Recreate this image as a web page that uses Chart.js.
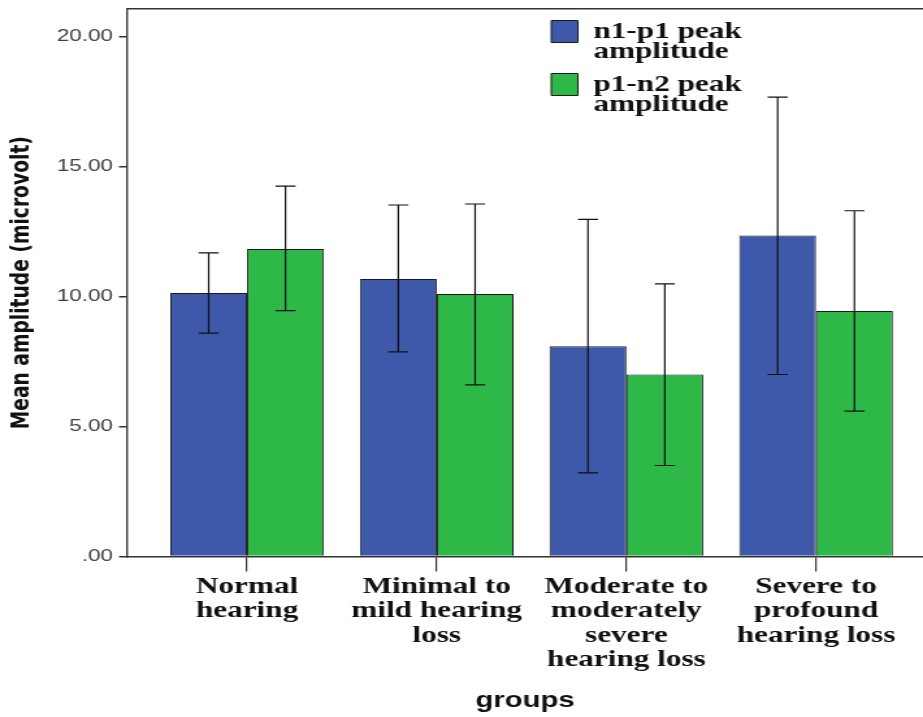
<!DOCTYPE html>
<html>
<head>
<meta charset="utf-8">
<script src="https://cdn.jsdelivr.net/npm/chart.js@4.4.1/dist/chart.umd.min.js"></script>
<style>
html,body{margin:0;padding:0;background:#fff;overflow:hidden;}
#c{display:block;width:923px!important;height:717px!important;}
</style>
</head>
<body>
<canvas id="c" width="710" height="717" style="width:923px;height:717px"></canvas>
<script>
// ---- data ----
const categories = ["Normal hearing", "Minimal to mild hearing loss", "Moderate to moderately severe hearing loss", "Severe to profound hearing loss"];
const categoryLabelLines = [["Normal", "hearing"], ["Minimal to", "mild hearing", "loss"], ["Moderate to", "moderately", "severe", "hearing loss"], ["Severe to", "profound", "hearing loss"]];
const seriesNames = ["n1-p1 peak amplitude", "p1-n2 peak amplitude"];
const seriesLegendLines = [["n1-p1 peak", "amplitude"], ["p1-n2 peak", "amplitude"]];
const n1p1Mean  = [10.14, 10.67, 8.09, 12.35];
const n1p1Lower = [8.59, 7.87, 3.22, 7.00];
const n1p1Upper = [11.68, 13.52, 12.97, 17.67];
const p1n2Mean  = [11.83, 10.10, 7.00, 9.44];
const p1n2Lower = [9.46, 6.60, 3.50, 5.59];
const p1n2Upper = [14.25, 13.56, 10.49, 13.30];
const yTickValues = [0, 5, 10, 15, 20];
const yTickLabels = [".00", "5.00", "10.00", "15.00", "20.00"];
const yAxisTitle = "Mean amplitude (microvolt)";
const xAxisTitle = "groups";

const AXIS = '#333333';

const errorBars = {
  id: 'errorBars',
  afterDatasetsDraw(chart) {
    const ctx = chart.ctx, y = chart.scales.y;
    ctx.save();
    ctx.strokeStyle = '#111';
    ctx.lineWidth = 1.2;
    chart.data.datasets.forEach((ds, d) => {
      const meta = chart.getDatasetMeta(d);
      meta.data.forEach((bar, i) => {
        const x = bar.x;
        const yt = y.getPixelForValue(ds.upper[i]);
        const yb = y.getPixelForValue(ds.lower[i]);
        const cap = 7.7;
        ctx.beginPath();
        ctx.moveTo(x, yt); ctx.lineTo(x, yb);
        ctx.moveTo(x - cap, yt); ctx.lineTo(x + cap, yt);
        ctx.moveTo(x - cap, yb); ctx.lineTo(x + cap, yb);
        ctx.stroke();
      });
    });
    ctx.restore();
  }
};

const legendPlacement = {
  id: 'legendPlacement',
  afterLayout(chart) {
    const lg = chart.legend;
    if (!lg) return;
    const pad = lg.options.labels.padding;
    lg.left = 424 - pad;
    lg.right = lg.left + lg.width;
    lg.top = 19.5 - pad;
    lg.bottom = lg.top + lg.height;
  }
};

new Chart(document.getElementById('c'), {
  type: 'bar',
  data: {
    datasets: [
      {
        label: seriesNames[0],
        data: n1p1Mean.map((v, i) => ({ x: i, y: v })),
        lower: n1p1Lower, upper: n1p1Upper,
        backgroundColor: '#3E58AA', borderColor: '#1a1a1a', borderWidth: 1
      },
      {
        label: seriesNames[1],
        data: p1n2Mean.map((v, i) => ({ x: i, y: v })),
        lower: p1n2Lower, upper: p1n2Upper,
        backgroundColor: '#2EB848', borderColor: '#1a1a1a', borderWidth: 1
      }
    ]
  },
  plugins: [errorBars, legendPlacement],
  options: {
    responsive: false,
    animation: false,
    devicePixelRatio: 1,
    layout: { padding: { top: 9, left: 0, right: 0, bottom: 0 } },
    datasets: { bar: { categoryPercentage: 0.81, barPercentage: 1.0, borderSkipped: 'start' } },
    plugins: {
      tooltip: { enabled: false },
      legend: {
        position: 'chartArea',
        align: 'start',
        labels: {
          color: '#111',
          font: { family: "'Liberation Serif', 'Times New Roman', serif", weight: 'bold', size: 24, lineHeight: 0.85 },
          boxWidth: 20.5,
          boxHeight: 22,
          padding: 12.2,
          generateLabels(chart) {
            const items = Chart.defaults.plugins.legend.labels.generateLabels(chart);
            items.forEach(it => { it.text = seriesLegendLines[it.datasetIndex]; });
            return items;
          }
        }
      }
    },
    scales: {
      x: {
        type: 'linear',
        position: 'bottom',
        min: -0.633,
        max: 3.564,
        offset: false,
        afterBuildTicks(s) { s.ticks = categories.map((_, i) => ({ value: i })); },
        afterFit(s) { s.height = 160.5; s.paddingLeft = 0; s.paddingRight = 0; },
        grid: { drawOnChartArea: false, drawTicks: true, tickLength: 15, color: AXIS, lineWidth: 1.2, offset: false },
        border: { display: true, color: AXIS, width: 1.5 },
        ticks: {
          autoSkip: false, maxRotation: 0, minRotation: 0, padding: 3, color: '#111',
          font: { family: "'Liberation Serif', 'Times New Roman', serif", weight: 'bold', size: 24, lineHeight: 1.02 },
          callback: (v) => categoryLabelLines[v]
        },
        title: {
          display: true, text: xAxisTitle, color: '#111',
          font: { family: "'Liberation Sans', Arial, sans-serif", weight: 'bold', size: 22.5 },
          padding: { top: 0, bottom: 3 }
        }
      },
      xTop: {
        type: 'linear', position: 'top', display: true,
        grid: { display: false, drawTicks: false },
        ticks: { display: false },
        border: { display: true, color: AXIS, width: 1.5 },
        afterFit(s) { s.height = 0; }
      },
      y: {
        min: 0,
        max: 21.06,
        afterBuildTicks(s) { s.ticks = yTickValues.map(v => ({ value: v })); },
        afterFit(s) { s.width = 97.7; s.paddingTop = 0; s.paddingBottom = 0; },
        grid: { drawOnChartArea: false, drawTicks: true, tickLength: 6.2, color: AXIS, lineWidth: 1.5 },
        border: { display: true, color: AXIS, width: 1.4 },
        ticks: {
          padding: 4.6, color: '#404040',
          font: { family: "'Liberation Sans', Arial, sans-serif", size: 17.3 },
          callback: (v, i) => yTickLabels[i]
        },
        title: {
          display: true, text: yAxisTitle, color: '#111',
          font: { family: "'DejaVu Sans', sans-serif", weight: 'bold', size: 18.7 },
          padding: { top: 5.7, bottom: 0 }
        }
      }
    }
  }
});
</script>
</body>
</html>
